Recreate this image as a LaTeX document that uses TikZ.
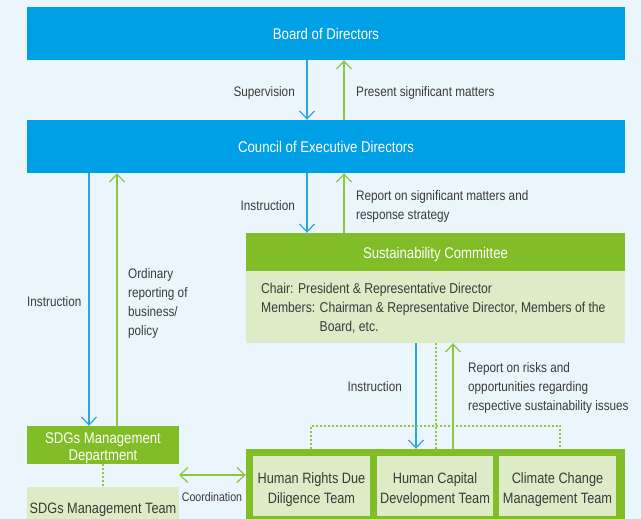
\documentclass[tikz,border=0pt]{standalone}
\usepackage{fontspec}
\setmainfont{Liberation Sans}[FakeStretch=0.85]
\usetikzlibrary{arrows.meta}

\definecolor{bgblue}{HTML}{EBF6FC}
\definecolor{boxblue}{HTML}{00A0E6}
\definecolor{boxgreen}{HTML}{80BD26}
\definecolor{palegreen}{HTML}{DDEBC7}
\definecolor{lineblue}{HTML}{29A8E0}
\definecolor{linegreen}{HTML}{8DC63F}
\definecolor{txtgray}{HTML}{3A3A3A}

\tikzset{
  bluebox/.style={fill=boxblue,text=white,inner sep=0,font=\fontsize{15.5}{19}\selectfont},
  greenbox/.style={fill=boxgreen,text=white,inner sep=0,align=center,font=\fontsize{15.5}{17}\selectfont},
  palebox/.style={fill=palegreen,text=txtgray,inner sep=0,align=center,font=\fontsize{15}{20}\selectfont},
  teamtext/.style={text=txtgray,inner sep=0,align=center,font=\fontsize{15}{20}\selectfont},
  lbl/.style={text=txtgray,inner sep=0,align=left,font=\fontsize{13.8}{19}\selectfont},
  barrow/.style={draw=lineblue,line width=1.2pt,-{Straight Barb[length=8pt,width=15pt]}},
  garrow/.style={draw=linegreen,line width=1.2pt,-{Straight Barb[length=8pt,width=15pt]}},
  gdots/.style={draw=linegreen,line width=2pt,dash pattern=on 2pt off 2pt},
}

\begin{document}
\begin{tikzpicture}[x=1pt,y=-1pt]
	% page and clipping
	\fill[bgblue] (0,0) rectangle (641,519);
	\useasboundingbox (0,0) rectangle (641,519);
	\clip (0,0) rectangle (641,519);

	% governing bodies
	\node[bluebox,minimum width=598,minimum height=53,text height=13pt] (board) at (326,33.5) {Board of Directors};
	\node[bluebox,minimum width=598,minimum height=53,text height=13pt] (council) at (326,146.5) {Council of Executive Directors};

	% committee
	\node[greenbox,minimum width=379,minimum height=38,text height=16pt] (comhead) at (435.5,252) {Sustainability Committee};
	\node[fill=palegreen,minimum width=379,minimum height=72,inner sep=0] (combody) at (435.5,307) {};
	\node[lbl,anchor=north west,font=\fontsize{14.3}{19}\selectfont] (commembers) at (261,283)
		{Chair: President \& Representative Director\\
		 Members: Chairman \& Representative Director, Members of the\\
		 \hphantom{Members: }Board, etc.};

	% teams
	\node[fill=boxgreen,minimum width=379,minimum height=78,inner sep=0] (teams) at (435.5,488) {};
	\node[palebox,minimum width=117,minimum height=60] (hrdd) at (311.5,486) {};
	\node[palebox,minimum width=116,minimum height=60] (hcd) at (435,486) {};
	\node[palebox,minimum width=117,minimum height=60] (ccm) at (557.5,486) {};
	\node[teamtext] (hrddtext) at ([yshift=-4pt]hrdd.center) {Human Rights Due\\Diligence Team};
	\node[teamtext] (hcdtext) at ([yshift=-4pt]hcd.center) {Human Capital\\Development Team};
	\node[teamtext] (ccmtext) at ([yshift=-4pt]ccm.center) {Climate Change\\Management Team};

	% SDGs
	\node[greenbox,minimum width=152,minimum height=38] (sdgdept) at (103,445) {};
	\node[greenbox] (sdgdepttext) at ([yshift=-3pt]sdgdept.center) {SDGs Management\\Department};
	\node[palebox,minimum width=152,minimum height=46] (sdgteam) at (103,510) {SDGs Management Team};

	% board <-> council
	\draw[barrow] ([xshift=-19pt]board.south) -- ([xshift=-19pt]council.north);
	\draw[garrow] ([xshift=18pt]council.north) -- ([xshift=18pt]board.south);
	\node[lbl,anchor=east] (supervision) at (295,93) {Supervision};
	\node[lbl,anchor=west] (present) at (356,93) {Present significant matters};

	% council <-> committee
	\draw[barrow] ([xshift=-19pt]council.south) -- ([xshift=-128.5pt]comhead.north);
	\draw[garrow] ([xshift=-91.5pt]comhead.north) -- ([xshift=18pt]council.south);
	\node[lbl,anchor=east] (instcom) at (295,206) {Instruction};
	\node[lbl,anchor=west] (repcom) at (356,206.5) {Report on significant matters and\\response strategy};

	% council <-> SDGs department
	\draw[barrow] ([xshift=-237pt]council.south) -- ([xshift=-14pt]sdgdept.north);
	\draw[garrow] ([xshift=14pt]sdgdept.north) -- ([xshift=-209pt]council.south);
	\node[lbl,anchor=west] (instsdg) at (27,302) {Instruction};
	\node[lbl,anchor=west] (ordinary) at (128,303.5) {Ordinary\\reporting of\\business/\\policy};

	% committee <-> teams
	\draw[barrow] ([xshift=-19.5pt]combody.south) -- ([xshift=-19.5pt]teams.north);
	\draw[gdots] (combody.south) -- (teams.north);
	\draw[garrow] ([xshift=17.5pt]teams.north) -- ([xshift=17.5pt]combody.south);
	\draw[gdots] ([xshift=-1pt]hrdd.north |- teams.north) -- ++(0,-23) -| ([xshift=2.5pt]ccm.north |- teams.north);
	\node[lbl,anchor=east] (instteam) at (402,387) {Instruction};
	\node[lbl,anchor=west] (repteam) at (468,388) {Report on risks and\\opportunities regarding\\respective sustainability issues};

	% SDGs department and teams
	\draw[gdots] (sdgdept.south) -- (sdgteam.north);
	\coordinate (coord) at (179,475);
	\draw[garrow,{Straight Barb[length=8pt,width=15pt]}-{Straight Barb[length=8pt,width=15pt]}] (coord) -- (coord -| teams.west);
	\node[lbl,font=\fontsize{12.5}{15}\selectfont] (coordination) at (212,497) {Coordination};
\end{tikzpicture}
\end{document}
